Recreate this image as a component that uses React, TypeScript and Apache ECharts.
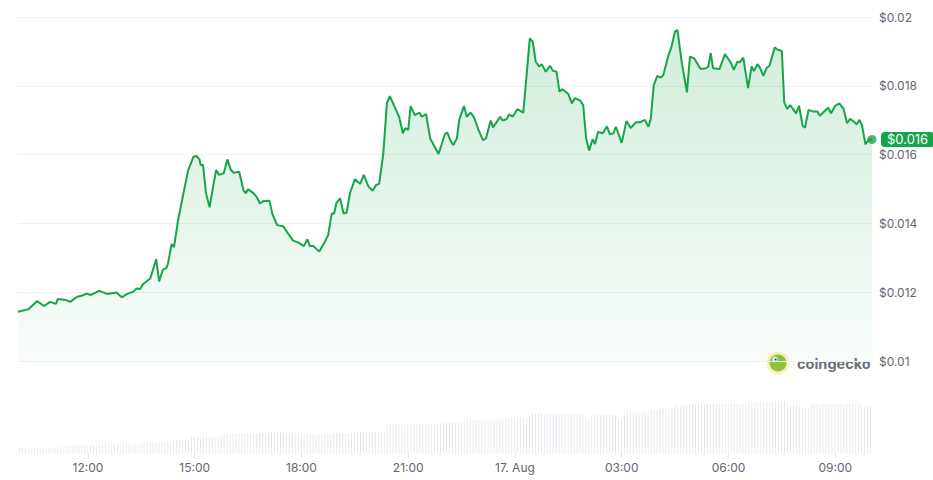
import React, { useEffect, useRef } from "react";
import * as echarts from "echarts";

// Minutes after the window start (16 Aug, 10:02)
const priceMinutes = [
  0, 17, 32, 44, 54, 64, 67, 81, 88, 99,
  111, 116, 123, 137, 150, 166, 175, 184, 194, 200,
  206, 211, 223, 233, 238, 244, 250, 253, 259, 263,
  270, 279, 287, 296, 301, 306, 308, 312, 317, 323,
  329, 334, 339, 347, 353, 359, 364, 373, 380, 384,
  388, 397, 402, 408, 414, 424, 429, 437, 447, 456,
  464, 473, 482, 488, 492, 498, 508, 516, 523, 529,
  533, 537, 543, 549, 554, 560, 568, 577, 583, 591,
  598, 604, 609, 616, 622, 627, 636, 643, 649, 653,
  658, 662, 669, 677, 681, 688, 695, 701, 709, 714,
  720, 724, 730, 734, 740, 744, 752, 757, 763, 769,
  776, 784, 789, 797, 801, 813, 817, 824, 828, 834,
  842, 852, 863, 868, 873, 879, 883, 890, 897, 902,
  908, 913, 918, 928, 934, 939, 948, 953, 958, 963,
  969, 973, 978, 986, 993, 998, 1004, 1008, 1018, 1026,
  1033, 1042, 1049, 1057, 1063, 1067, 1072, 1078, 1084, 1088,
  1097, 1102, 1108, 1112, 1119, 1128, 1133, 1140, 1151, 1160,
  1164, 1168, 1172, 1183, 1192, 1201, 1207, 1213, 1217, 1223,
  1231, 1237, 1241, 1247, 1251, 1257, 1262, 1267, 1276, 1282,
  1288, 1292, 1297, 1302, 1312, 1317, 1323, 1327, 1333, 1341,
  1348, 1352, 1358, 1366, 1371, 1378, 1385, 1392, 1398, 1403,
  1408, 1414, 1419, 1423, 1429, 1434, 1440,
];

const prices = [
  0.01143, 0.0115, 0.01174, 0.0116, 0.01172, 0.01166, 0.0118, 0.01177, 0.01172, 0.01186,
  0.01192, 0.01196, 0.01192, 0.01204, 0.01195, 0.01199, 0.01185, 0.01195, 0.01201, 0.01211,
  0.01209, 0.01224, 0.0124, 0.01296, 0.01231, 0.01265, 0.0127, 0.01284, 0.0134, 0.01331,
  0.0141, 0.01488, 0.01555, 0.01594, 0.01596, 0.01586, 0.0157, 0.0157, 0.01488, 0.01447,
  0.01507, 0.01555, 0.01541, 0.01546, 0.01586, 0.01555, 0.01547, 0.0155, 0.01497, 0.01488,
  0.01499, 0.01488, 0.01478, 0.01458, 0.01465, 0.01466, 0.01427, 0.01395, 0.01392, 0.01369,
  0.0135, 0.01344, 0.01334, 0.01354, 0.01334, 0.01334, 0.01318, 0.01342, 0.01366, 0.01429,
  0.01429, 0.0146, 0.01473, 0.01429, 0.01431, 0.01489, 0.01528, 0.01515, 0.01541, 0.01507,
  0.01495, 0.01512, 0.01515, 0.01604, 0.01749, 0.0177, 0.01735, 0.01708, 0.01662, 0.01677,
  0.01672, 0.01741, 0.01715, 0.01722, 0.0171, 0.01718, 0.01647, 0.01628, 0.01602, 0.01628,
  0.0166, 0.01664, 0.01638, 0.01628, 0.01647, 0.01701, 0.01741, 0.0171, 0.01722, 0.01708,
  0.01674, 0.01642, 0.01647, 0.01699, 0.01679, 0.0171, 0.01699, 0.01703, 0.01717, 0.0171,
  0.01732, 0.01722, 0.01938, 0.01928, 0.0187, 0.01856, 0.01863, 0.01841, 0.01858, 0.01844,
  0.01841, 0.01783, 0.0179, 0.01776, 0.01749, 0.01764, 0.01757, 0.01744, 0.01647, 0.01612,
  0.01645, 0.01631, 0.01666, 0.01662, 0.01682, 0.01659, 0.01662, 0.01681, 0.01634, 0.01698,
  0.01677, 0.01694, 0.01694, 0.01701, 0.01681, 0.01704, 0.01802, 0.01829, 0.01824, 0.01831,
  0.0189, 0.01914, 0.01959, 0.01962, 0.0187, 0.01781, 0.01885, 0.0188, 0.01849, 0.01851,
  0.01856, 0.01895, 0.01851, 0.01849, 0.01892, 0.0187, 0.01846, 0.0187, 0.01868, 0.01882,
  0.01793, 0.01856, 0.01843, 0.01863, 0.01853, 0.01829, 0.01851, 0.01858, 0.01911, 0.01904,
  0.01901, 0.01752, 0.01733, 0.01744, 0.0172, 0.01742, 0.01684, 0.01678, 0.0173, 0.01725,
  0.01725, 0.01713, 0.01723, 0.01736, 0.0172, 0.01742, 0.01749, 0.01733, 0.01691, 0.01704,
  0.01698, 0.01688, 0.01701, 0.01686, 0.0163, 0.01642, 0.01644,
];

// Relative volume bars, one per 5 minutes
const volumeStepMinutes = 5;
const volumes = [
  7.4, 7.4, 7.4, 7.4, 7.4, 7.4, 7.4, 7.4, 7.4, 7.4, 7.4, 7.4, 7.4, 7.4, 7.4,
  10.6, 10.6, 10.6, 10.6, 10.6, 10.6, 10.6, 10.6, 10.6, 10.6, 10.6, 10.6, 10.6,
  11.6, 11.6, 11.6, 11.6, 11.6, 11.6, 11.6, 11.6, 11.6, 11.6, 11.6, 11.6, 11.6,
  12.5, 13, 13.8, 13.8,
  14, 14, 14, 14, 14, 14, 14,
  17.5, 17.5, 17.5, 17.5, 17.5, 17.5,
  22, 22, 22, 22, 22, 22, 22, 22, 22, 22, 22,
  26.7, 26.7, 26.7, 26.7, 26.7, 26.7, 26.7, 26.7, 26.7, 26.7, 26.7, 26.7, 26.7,
  28, 28, 28, 28, 28, 28, 28, 28, 28, 28, 28, 28, 28, 28,
  25.3, 25.3, 25.3, 25.3, 25.3, 25.3, 25.3, 25.3, 25.3, 25.3,
  27, 27, 27, 27, 27, 27, 27,
  29, 29, 29, 29, 29, 29, 29, 29, 29, 29, 29,
  39.5, 39.5, 39.5, 39.5, 39.5, 39.5, 39.5, 39.5, 39.5, 39.5, 39.5, 39.5, 39.5, 39.5, 39.5, 39.5, 39.5, 39.5, 39.5,
  42, 42, 42, 42, 42, 42, 42, 42,
  45, 45, 45, 45, 45, 45, 45, 45, 45, 45, 45,
  47, 47, 47, 47, 47, 47, 47, 47, 47, 47,
  50.5,
  54, 54, 54, 54, 54, 54, 54, 54, 54, 54, 54, 54, 54, 54, 54, 54, 54, 54,
  44, 44,
  52, 52, 52, 52, 52, 52, 52, 52, 52,
  45, 45,
  55.6, 55.6, 55.6, 55.6, 55.6, 55.6, 55.6, 55.6, 55.6,
  58.7, 58.7, 58.7,
  61, 61, 61, 61, 61,
  65.6, 65.6, 65.6, 65.6, 65.6, 65.6,
  67, 67, 67, 67, 67, 67, 67, 67, 67, 67, 67, 67, 67, 67, 67, 67, 67, 67, 67, 67,
  69, 69, 69, 69, 69, 69, 69,
  71.5, 71.5, 71.5, 71.5, 71.5,
  65.6, 65.6, 65.6, 65.6, 65.6,
  61.5, 61.5, 61.5,
  67, 67, 67, 67, 67, 67, 67, 67, 67, 67, 67, 67, 67, 67, 67, 67, 67,
  64.6, 64.6, 64.6, 64.6,
];

const tickMinutes = [118, 298, 478, 658, 838, 1018, 1198, 1378];
const tickLabels = ["12:00", "15:00", "18:00", "21:00", "17. Aug", "03:00", "06:00", "09:00"];

const GREEN = "#16a548";
const FONT = "Inter, 'Noto Sans', sans-serif";

export default function App() {
  const ref = useRef<HTMLDivElement>(null);

  useEffect(() => {
    if (!ref.current) return;
    const chart = echarts.init(ref.current, null, { renderer: "svg" });
    const priceData = priceMinutes.map((m, i) => [m, prices[i]]);
    const volData = volumes.map((v, i) => [i * volumeStepMinutes + volumeStepMinutes / 2, v]);
    const last = priceData[priceData.length - 1];

    chart.setOption({
      animation: false,
      textStyle: { fontFamily: FONT },
      grid: [
        { left: 18, right: 61, top: 17, bottom: 119 },
        { left: 18, right: 61, top: 380, bottom: 27 },
      ],
      xAxis: [
        { type: "value", gridIndex: 0, min: 0, max: 1440, show: false },
        {
          type: "value",
          gridIndex: 1,
          min: 0,
          max: 1440,
          axisLine: { show: false },
          splitLine: { show: false },
          axisTick: {
            show: true,
            customValues: tickMinutes,
            length: 5,
            lineStyle: { color: "#e3e6ea" },
          },
          axisLabel: {
            customValues: tickMinutes,
            formatter: (v: number) => {
              const i = tickMinutes.indexOf(Math.round(v));
              return i >= 0 ? tickLabels[i] : "";
            },
            color: "#5f6673",
            fontSize: 12,
            margin: 8,
            fontFamily: FONT,
          },
        },
      ],
      yAxis: [
        {
          type: "value",
          gridIndex: 0,
          position: "right",
          min: 0.01,
          max: 0.02,
          interval: 0.002,
          axisLine: { show: false },
          axisTick: { show: false },
          axisLabel: {
            formatter: (v: number) => "$" + parseFloat(v.toFixed(4)),
            color: "#5f6673",
            fontSize: 12,
            margin: 7,
            fontFamily: FONT,
          },
          splitLine: { lineStyle: { color: "#eef0f3", width: 1 } },
        },
        { type: "value", gridIndex: 1, min: 0, max: 100, show: false },
      ],
      series: [
        {
          type: "bar",
          xAxisIndex: 1,
          yAxisIndex: 1,
          data: volData,
          barWidth: 1,
          itemStyle: { color: "#e6e9ed" },
          silent: true,
        },
        {
          type: "line",
          xAxisIndex: 0,
          yAxisIndex: 0,
          data: priceData,
          showSymbol: false,
          lineStyle: { color: GREEN, width: 2 },
          areaStyle: {
            color: new echarts.graphic.LinearGradient(0, 0, 0, 1, [
              { offset: 0, color: "rgba(22,165,72,0.28)" },
              { offset: 1, color: "rgba(22,165,72,0.04)" },
            ]),
          },
          endLabel: {
            show: true,
            formatter: (p: any) => "$" + Number(p.value[1]).toFixed(3),
            color: "#ffffff",
            backgroundColor: GREEN,
            borderRadius: 4,
            padding: [1, 6, 1, 6],
            fontSize: 13,
            distance: 9,
            fontFamily: FONT,
          },
          silent: true,
        },
        {
          type: "scatter",
          xAxisIndex: 0,
          yAxisIndex: 0,
          data: [last],
          symbol: "circle",
          symbolSize: 9,
          itemStyle: { color: GREEN },
          silent: true,
        },
      ],
      graphic: [
        { type: "circle", shape: { cx: 778, cy: 363, r: 11.5 }, style: { fill: "#fcf0bd" } },
        { type: "circle", shape: { cx: 778, cy: 363, r: 8.5 }, style: { fill: "#8cc63f" } },
        { type: "circle", shape: { cx: 775, cy: 359.5, r: 2.6 }, style: { fill: "#ffffff" } },
        { type: "circle", shape: { cx: 775.6, cy: 359.5, r: 1.2 }, style: { fill: "#58595b" } },
        {
          type: "text",
          x: 797,
          y: 363,
          style: {
            text: "coingecko",
            fontSize: 14.5,
            fontWeight: "bold",
            fill: "#6b6f76",
            verticalAlign: "middle",
            fontFamily: FONT,
          },
        },
      ],
    });

    return () => chart.dispose();
  }, []);

  return (
    <div
      ref={ref}
      style={{ position: "absolute", left: 0, top: 0, width: 933, height: 480 }}
    />
  );
}
